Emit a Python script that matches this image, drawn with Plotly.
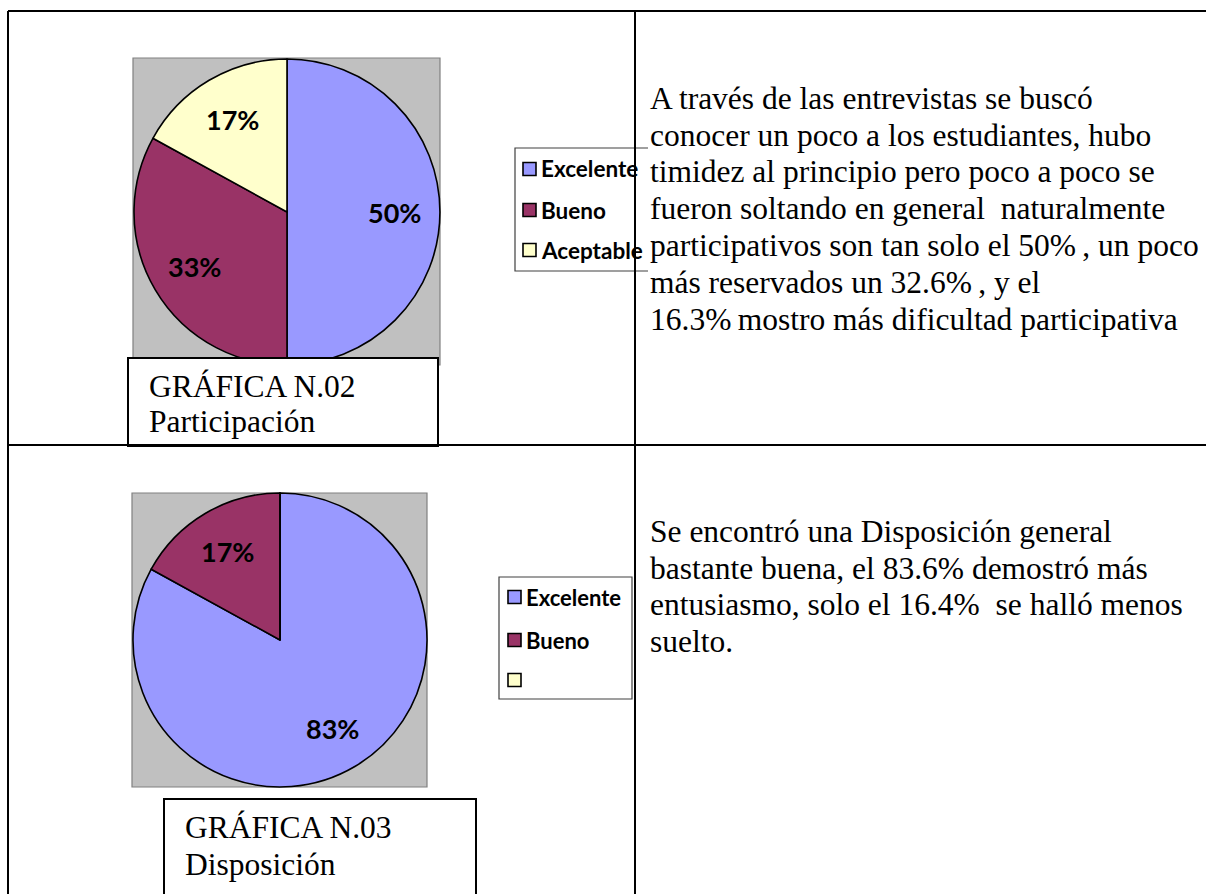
import math
import plotly.graph_objects as go

# ---------------- data ----------------
categories_02 = ["Excelente", "Bueno", "Aceptable"]
values_02 = [50, 33, 17]
categories_03 = ["Excelente", "Bueno", ""]
values_03 = [83, 17, 0]
slice_colors = ["#9999FF", "#993366", "#FFFFCC"]

caption_02 = ["GRÁFICA N.02", "Participación"]
caption_03 = ["GRÁFICA N.03", "Disposición"]

text_02 = [
    "A través de las entrevistas se buscó",
    "conocer un poco a los estudiantes, hubo",
    "timidez al principio pero poco a poco se",
    "fueron soltando en general\u00a0 naturalmente",
    "participativos son tan solo el 50%\u2009, un poco",
    "más reservados un 32.6%\u2009, y el",
    "16.3%\u2009mostro más dificultad participativa",
]
text_03 = [
    "Se encontró una Disposición general",
    "bastante buena, el 83.6% demostró más",
    "entusiasmo, solo el 16.4%\u00a0 se halló menos",
    "suelto.",
]

# ---------------- layout helpers (pixel -> paper) ----------------
W, H = 1206, 894


def X(px):
    return px / W


def Y(py):
    return 1 - py / H


SERIF = "Liberation Serif, Times New Roman, Times, DejaVu Serif, serif"
SANS = "Lato, Carlito, Calibri, sans-serif"

fig = go.Figure()
shapes = []
annotations = []


def add_pie(cats, vals, cx, cy, r, gray_box):
    gx0, gy0, gx1, gy1 = gray_box
    shapes.append(dict(type="rect", xref="paper", yref="paper",
                       x0=X(gx0), x1=X(gx1), y0=Y(gy1), y1=Y(gy0),
                       fillcolor="#C0C0C0", line=dict(color="#808080", width=1.2),
                       layer="below"))
    fig.add_trace(go.Pie(
        labels=cats, values=vals, sort=False, direction="clockwise", rotation=0,
        textinfo="none", showlegend=False,
        marker=dict(colors=slice_colors, line=dict(color="black", width=1.6)),
        domain=dict(x=[X(cx - r), X(cx + r)], y=[Y(cy + r), Y(cy - r)]),
    ))
    total = sum(vals)
    cum = 0
    for v in vals:
        if v <= 0:
            continue
        mid = (cum + v / 2) / total * 2 * math.pi
        cum += v
        lx = cx + 0.70 * r * math.sin(mid)
        ly = cy - 0.70 * r * math.cos(mid)
        annotations.append(dict(
            x=X(lx), y=Y(ly), xref="paper", yref="paper", showarrow=False,
            xanchor="center", yanchor="middle",
            text="<b>%d%%</b>" % round(100 * v / total),
            font=dict(family=SANS, size=27, color="black")))


def add_legend(cats, box, sq_x, centers, right_border=True, size=22):
    bx0, by0, bx1, by1 = box
    if right_border:
        shapes.append(dict(type="rect", xref="paper", yref="paper",
                           x0=X(bx0), x1=X(bx1), y0=Y(by1), y1=Y(by0),
                           fillcolor="white", line=dict(color="#404040", width=1.2),
                           layer="above"))
    else:
        shapes.append(dict(type="rect", xref="paper", yref="paper",
                           x0=X(bx0), x1=X(bx1), y0=Y(by1), y1=Y(by0),
                           fillcolor="white", line=dict(width=0), layer="above"))
        path = "M %f,%f L %f,%f L %f,%f L %f,%f" % (
            X(bx1), Y(by0), X(bx0), Y(by0), X(bx0), Y(by1), X(bx1), Y(by1))
        shapes.append(dict(type="path", xref="paper", yref="paper", path=path,
                           line=dict(color="#404040", width=1.2), layer="above"))
    s = 13
    for cat, col, cyy in zip(cats, slice_colors, centers):
        shapes.append(dict(type="rect", xref="paper", yref="paper",
                           x0=X(sq_x), x1=X(sq_x + s), y0=Y(cyy + s / 2), y1=Y(cyy - s / 2),
                           fillcolor=col, line=dict(color="black", width=1.6),
                           layer="above"))
        if cat:
            annotations.append(dict(
                x=X(sq_x + s + 3), y=Y(cyy), xref="paper", yref="paper",
                showarrow=False, xanchor="left", yanchor="middle",
                text="<b>%s</b>" % cat,
                font=dict(family=SANS, size=size, color="black")))


def add_caption(lines, box, tx, baselines, size=31.5):
    bx0, by0, bx1, by1 = box
    shapes.append(dict(type="rect", xref="paper", yref="paper",
                       x0=X(bx0), x1=X(bx1), y0=Y(by1), y1=Y(by0),
                       fillcolor="white", line=dict(color="black", width=2),
                       layer="above"))
    for ln, b in zip(lines, baselines):
        annotations.append(dict(
            x=X(tx), y=Y(b - 0.34 * size), xref="paper", yref="paper",
            showarrow=False, xanchor="left", yanchor="middle", text=ln,
            font=dict(family=SERIF, size=size, color="black")))


def add_body(lines, tx, first_baseline, spacing, size=31.5):
    for i, ln in enumerate(lines):
        b = first_baseline + i * spacing
        annotations.append(dict(
            x=X(tx), y=Y(b - 0.34 * size), xref="paper", yref="paper",
            showarrow=False, xanchor="left", yanchor="middle", text=ln,
            font=dict(family=SERIF, size=size, color="black")))


# ---- row 1 ----
add_pie(categories_02, values_02, 287, 212, 153, (133, 58, 440, 365))
add_legend(categories_02, (515, 148, 648, 271), 523, [169, 210, 250],
           right_border=False, size=22.5)
add_caption(caption_02, (128, 358, 438, 446), 147, [397, 432])
add_body(text_02, 648, 109, 36.8)

# ---- row 2 ----
add_pie(categories_03, values_03, 280, 640, 147, (132, 493, 427, 787))
add_legend(categories_03, (499, 577, 632, 699), 508, [597, 640, 680],
           right_border=True, size=22)
add_caption(caption_03, (164, 799, 476, 910), 183, [838, 875])
add_body(text_03, 648, 542, 36.8)

# ---- table lines ----
for (x0, y0, x1, y1) in [(8, 11, 1210, 11), (8, 11, 8, 900), (635, 11, 635, 900),
                         (8, 445, 1210, 445)]:
    shapes.append(dict(type="line", xref="paper", yref="paper",
                       x0=X(x0), y0=Y(y0), x1=X(x1), y1=Y(y1),
                       line=dict(color="black", width=2), layer="above"))

fig.update_layout(
    width=W, height=H, margin=dict(l=0, r=0, t=0, b=0),
    paper_bgcolor="white", plot_bgcolor="white",
    shapes=shapes, annotations=annotations, showlegend=False,
)

fig.write_html(
    "out.html",
    config={"displayModeBar": False},
    post_script="document.body.style.margin='0';document.body.style.overflow='hidden';",
)
